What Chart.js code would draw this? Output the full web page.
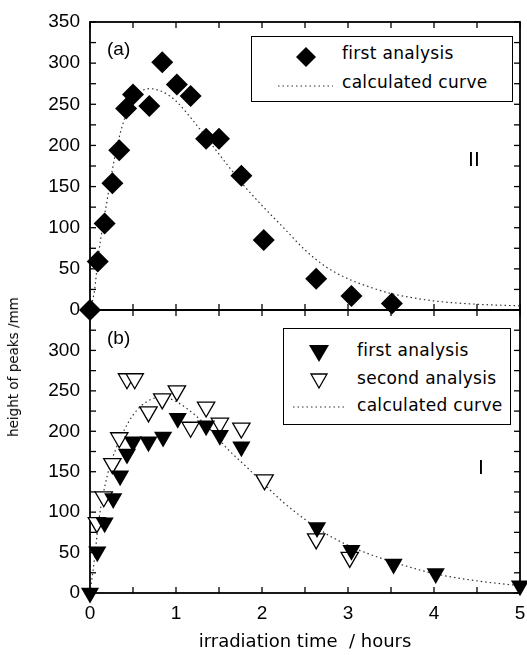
<!DOCTYPE html>
<html>
<head>
<meta charset="utf-8">
<script src="https://cdn.jsdelivr.net/npm/chart.js@4.4.1/dist/chart.umd.min.js"></script>
<style>
  html, body { margin: 0; padding: 0; background: #fff; }
  #wrap { position: relative; width: 527px; height: 655px; }
  #c { position: absolute; left: 0; top: 0; }
  .txt { position: absolute; line-height: 1; color: #000; white-space: nowrap; }
  .leg { position: absolute; border: 1px solid #000; background: #fff; box-sizing: border-box; }
  .leg .t { position: absolute; font: 17px "DejaVu Sans"; letter-spacing: 0.3px; line-height: 1; white-space: nowrap; }
  .leg svg { position: absolute; overflow: visible; }
</style>
</head>
<body>
<div id="wrap">
  <canvas id="c" width="527" height="655"></canvas>

  <div class="txt" style="left:107px;top:38px;font:19px 'Liberation Sans';">(a)</div>
  <div class="txt" style="left:107px;top:327px;font:19px 'Liberation Sans';">(b)</div>
  <div class="txt" style="left:468px;top:147px;font:20px 'DejaVu Sans';">II</div>
  <div class="txt" style="left:478px;top:455px;font:20px 'DejaVu Sans';">I</div>
  <div class="txt" style="left:13px;top:367px;font:13.5px 'DejaVu Sans';transform:translate(-50%,-50%) rotate(-90deg);">height of peaks /mm</div>

  <div class="leg" style="left:251px;top:36px;width:262px;height:66px;">
    <svg style="left:54px;top:20px" width="1" height="1"><polygon points="0,-10 10,0 0,10 -10,0" fill="#000"/></svg>
    <div class="t" style="left:90px;top:8px;">first analysis</div>
    <svg style="left:26px;top:49px" width="1" height="1"><line x1="0" y1="0" x2="55" y2="0" stroke="#333" stroke-width="1.2" stroke-dasharray="1.5 3"/></svg>
    <div class="t" style="left:90px;top:37px;">calculated curve</div>
  </div>

  <div class="leg" style="left:283px;top:328px;width:228px;height:97px;">
    <svg style="left:35px;top:22px" width="1" height="1"><polygon points="-10,-6 10,-6 0,11" fill="#000"/></svg>
    <div class="t" style="left:73px;top:13px;">first analysis</div>
    <svg style="left:35px;top:50px" width="1" height="1"><polygon points="-8,-5 8,-5 0,9" fill="#fff" stroke="#000" stroke-width="1.3"/></svg>
    <div class="t" style="left:73px;top:41px;">second analysis</div>
    <svg style="left:9px;top:78px" width="1" height="1"><line x1="0" y1="0" x2="51" y2="0" stroke="#333" stroke-width="1.2" stroke-dasharray="1.5 3"/></svg>
    <div class="t" style="left:73px;top:68px;">calculated curve</div>
  </div>
</div>

<script>
// panel (a), peak II
const aTime = [0, 0.09, 0.17, 0.26, 0.34, 0.42, 0.5, 0.69, 0.84, 1.01, 1.17, 1.35, 1.5, 1.76, 2.02, 2.63, 3.04, 3.51]
const aFirst = [0, 59, 105, 154, 194, 245, 262, 248, 301, 274, 260, 208, 208, 163, 85, 38, 17, 8]
const aCurveT = [0, 0.05, 0.1, 0.2, 0.3, 0.4, 0.5, 0.6, 0.7, 0.8, 0.9, 1.0, 1.2, 1.4, 1.6, 1.8, 2.0, 2.25, 2.5, 2.75, 3.0, 3.25, 3.5, 3.75, 4.0, 4.5, 5.0]
const aCurve = [0, 22, 68, 134, 192, 232, 255, 266, 269, 267, 262, 254, 230, 203, 176, 150, 127, 100, 73, 52, 38, 28, 20, 15, 11, 7, 5]

// panel (b), peak I
const bFirstT = [0, 0.085, 0.17, 0.27, 0.35, 0.43, 0.5, 0.68, 0.85, 1.02, 1.35, 1.51, 1.76, 2.64, 3.04, 3.53, 4.02, 5.0]
const bFirst = [0, 51, 87, 117, 145, 172, 187, 187, 193, 216, 207, 195, 181, 81, 53, 36, 24, 9]
const bSecondT = [0.08, 0.16, 0.26, 0.34, 0.43, 0.52, 0.68, 0.84, 1.01, 1.17, 1.35, 1.51, 1.76, 2.03, 2.63, 3.02]
const bSecond = [87, 119, 160, 192, 265, 265, 224, 240, 250, 205, 230, 210, 204, 140, 67, 44]
const bCurveT = [0, 0.05, 0.1, 0.2, 0.3, 0.4, 0.5, 0.6, 0.7, 0.8, 0.9, 1.0, 1.2, 1.4, 1.6, 1.8, 2.0, 2.25, 2.5, 2.75, 3.0, 3.25, 3.5, 3.75, 4.0, 4.5, 5.0]
const bCurve = [0, 40, 88, 145, 178, 202, 220, 232, 239, 242, 241, 237, 222, 202, 178, 158, 137, 112, 91, 73, 59, 48, 39, 31, 24, 15, 9]

const xLabels = [0, 1, 2, 3, 4, 5]
const yLabels = [0, 50, 100, 150, 200, 250, 300, 350]

const pts = (xs, ys) => xs.map((x, i) => ({ x, y: ys[i] }))

const curve = (data, axis) => ({
  data, yAxisID: axis, showLine: true, pointRadius: 0, borderColor: '#333',
  borderWidth: 1.2, borderDash: [1.5, 3], tension: 0.4, cubicInterpolationMode: 'monotone',
  fill: false, order: 3
})

// box round each panel, with inward ticks on all four sides
const frame = {
  id: 'frame',
  beforeDatasetsDraw(chart) {
    const { ctx } = chart
    const x = chart.scales.x
    const line = (x1, y1, x2, y2) => { ctx.beginPath(); ctx.moveTo(x1, y1); ctx.lineTo(x2, y2); ctx.stroke() }
    ctx.save()
    ctx.strokeStyle = '#000'
    for (const id of ['yTop', 'yBot']) {
      const y = chart.scales[id]
      ctx.lineWidth = 1.8
      ctx.strokeRect(x.left, y.top, x.right - x.left, y.bottom - y.top)
      ctx.lineWidth = 1.3
      for (let v = 0; v <= 5; v += 0.5) {
        const px = x.getPixelForValue(v)
        line(px, y.top, px, y.top + 6)
        line(px, y.bottom, px, y.bottom - 6)
      }
      for (let v = 0; v <= 350; v += 25) {
        const py = y.getPixelForValue(v)
        line(x.left, py, x.left + 6, py)
        line(x.right, py, x.right - 6, py)
      }
    }
    ctx.restore()
  }
}

const yAxis = (weight, stackWeight, hideTop) => ({
  type: 'linear', position: 'left', stack: 'v', stackWeight, weight,
  min: 0, max: 350,
  grid: { display: false, drawTicks: false }, border: { display: false },
  afterBuildTicks: s => { s.ticks = yLabels.map(value => ({ value })) },
  ticks: {
    padding: 10, color: '#000', autoSkip: false,
    font: { family: 'Liberation Sans', size: 19 },
    callback: v => (hideTop && v === 350) ? '' : v
  },
  afterFit: s => { s.width = 90 }
})

new Chart(document.getElementById('c'), {
  type: 'scatter',
  data: {
    datasets: [
      { data: pts(aTime, aFirst), yAxisID: 'yTop', pointStyle: 'rectRot', pointRadius: 11,
        backgroundColor: '#000', borderColor: '#000', borderWidth: 0, order: 1 },
      curve(pts(aCurveT, aCurve), 'yTop'),
      { data: pts(bSecondT, bSecond), yAxisID: 'yBot', pointStyle: 'triangle', rotation: 180, pointRadius: 10,
        backgroundColor: '#fff', borderColor: '#000', borderWidth: 1.3, order: 2 },
      { data: pts(bFirstT, bFirst), yAxisID: 'yBot', pointStyle: 'triangle', rotation: 180, pointRadius: 10.5,
        backgroundColor: '#000', borderColor: '#000', borderWidth: 0, order: 1 },
      curve(pts(bCurveT, bCurve), 'yBot')
    ].map(d => ({ ...d, clip: false }))
  },
  options: {
    responsive: false, animation: false,
    layout: { autoPadding: false, padding: { top: 22, right: 7, left: 0, bottom: 0 } },
    plugins: { legend: { display: false }, tooltip: { enabled: false } },
    scales: {
      x: {
        type: 'linear', position: 'bottom', min: 0, max: 5,
        grid: { display: false, drawTicks: false }, border: { display: false },
        afterBuildTicks: s => { s.ticks = xLabels.map(value => ({ value })) },
        ticks: { padding: 0, color: '#000', font: { family: 'Liberation Sans', size: 19, lineHeight: 2.2 } },
        title: { display: true, text: 'irradiation time  / hours', color: '#000',
          font: { family: 'DejaVu Sans', size: 18 }, padding: { top: 0, bottom: 2 } },
        afterFit: s => { s.height = 62; s.paddingLeft = 0; s.paddingRight = 5 }
      },
      yTop: yAxis(2, 288, false),
      yBot: yAxis(1, 283, true)
    }
  },
  plugins: [frame]
})
</script>
</body>
</html>
